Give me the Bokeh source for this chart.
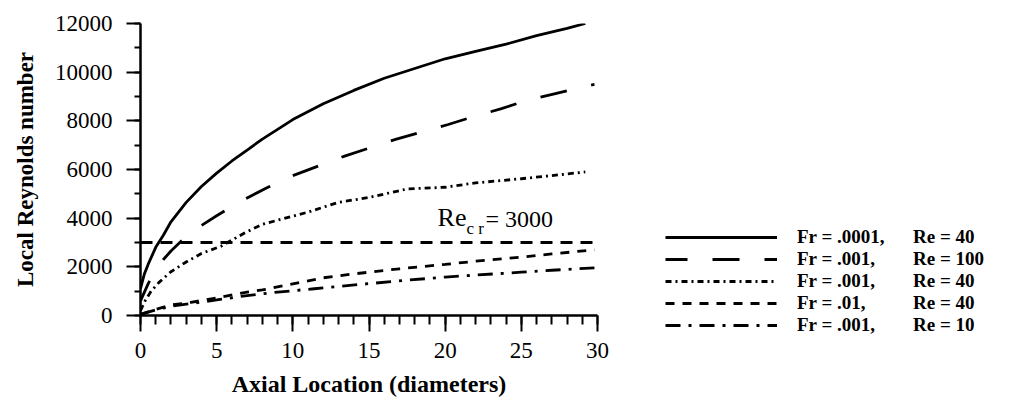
from bokeh.plotting import figure
from bokeh.models import Range1d, SingleIntervalTicker, Legend, LegendItem, Label
from bokeh.embed import file_html
from bokeh.resources import INLINE

# Local Reynolds number along the tube (axial location in diameters)
x_fr0001_re40 = [0, 0.25, 0.5, 1, 1.5, 2, 3, 4, 5, 6, 7, 8, 10, 12, 14, 16, 18, 20, 22, 24, 26, 28, 29.2]
re_fr0001_re40 = [1100, 1700, 2100, 2800, 3300, 3850, 4650, 5300, 5850, 6350, 6800, 7250, 8050, 8700,
                  9250, 9750, 10150, 10550, 10850, 11150, 11500, 11800, 12000]

x_fr001_re100 = [0, 0.5, 1, 1.5, 2, 3, 4, 5, 6.6, 8.3, 10, 11.7, 13.4, 15.1, 16.8, 18.5, 20.2, 22, 23.7, 25.4, 27.1, 29.8]
re_fr001_re100 = [600, 1300, 1900, 2300, 2650, 3250, 3700, 4100, 4700, 5250, 5750, 6150, 6550, 6900,
                  7250, 7550, 7850, 8200, 8500, 8850, 9100, 9500]

x_fr001_re40 = [0, 0.3, 0.7, 1.2, 2, 3, 4, 5.3, 6.8, 8, 9.5, 11, 13, 15, 17.5, 20, 22, 25, 27, 29.2]
re_fr001_re40 = [200, 600, 1000, 1350, 1800, 2200, 2550, 2850, 3380, 3750, 4000, 4250, 4650, 4850,
                 5200, 5270, 5450, 5620, 5750, 5900]

x_fr01_re40 = [0, 1, 2, 3.3, 5, 7, 8, 10, 12, 14, 17, 20, 22, 25, 27, 29.8]
re_fr01_re40 = [50, 250, 430, 540, 720, 960, 1050, 1300, 1550, 1710, 1920, 2100, 2230, 2400, 2530, 2700]

x_fr001_re10 = [0, 1, 2, 3.3, 5, 7, 9, 11.4, 14.3, 17.3, 20, 22, 25, 27, 29.8]
re_fr001_re10 = [50, 230, 380, 490, 640, 820, 960, 1100, 1270, 1440, 1580, 1660, 1780, 1860, 1960]

RE_CR = 3000
X_MIN, X_MAX = 0, 30
Y_MIN, Y_MAX = 0, 12000

legend_fr = ["Fr = .0001,", "Fr = .001,", "Fr = .001,", "Fr = .01,", "Fr = .001,"]
legend_re = ["Re = 40", "Re = 100", "Re = 40", "Re = 40", "Re = 10"]

SERIF = "Liberation Serif"
H = 406
LEFT, TOP, BOTTOM = 140, 23, 91
FRAME_W, FRAME_H = 457, H - TOP - BOTTOM

LW = 2.8
styles = [("solid", 0), ("27 25", 5), ("6 4 2 4", 0), ("9 8", 0), ("15 8 3 8", 0)]
series = [
    (x_fr0001_re40, re_fr0001_re40),
    (x_fr001_re100, re_fr001_re100),
    (x_fr001_re40, re_fr001_re40),
    (x_fr01_re40, re_fr01_re40),
    (x_fr001_re10, re_fr001_re10),
]

p = figure(frame_width=FRAME_W, frame_height=FRAME_H, output_backend="svg", toolbar_location=None,
           x_range=Range1d(X_MIN, X_MAX), y_range=Range1d(Y_MIN, Y_MAX),
           min_border_left=LEFT, min_border_right=0, min_border_top=TOP,
           min_border_bottom=BOTTOM)
p.outline_line_color = None
p.xgrid.visible = False
p.ygrid.visible = False

xa = p.xaxis[0]
xa.ticker = SingleIntervalTicker(interval=5, num_minor_ticks=5)
xa.major_tick_in = 0
xa.major_tick_out = 16
xa.minor_tick_in = 0
xa.minor_tick_out = 9
xa.major_label_standoff = 11
xa.axis_label = "Axial Location (diameters)"
xa.axis_label_standoff = 10
xa.axis_label_text_font_size = "24px"

ya = p.yaxis[0]
ya.ticker = SingleIntervalTicker(interval=2000, num_minor_ticks=2)
ya.major_tick_in = 0
ya.major_tick_out = 14
ya.minor_tick_in = 0
ya.minor_tick_out = 6
ya.major_label_standoff = 14
ya.axis_label = "Local Reynolds number"
ya.axis_label_standoff = 14
ya.axis_label_text_font_size = "23px"

for ax in (xa, ya):
    ax.axis_line_width = 2.5
    ax.axis_line_color = "black"
    ax.major_tick_line_width = 2
    ax.minor_tick_line_width = 2
    ax.major_tick_line_color = "black"
    ax.minor_tick_line_color = "black"
    ax.major_label_text_font = SERIF
    ax.major_label_text_font_size = "23px"
    ax.major_label_text_color = "black"
    ax.axis_label_text_font = SERIF
    ax.axis_label_text_font_style = "bold"
    ax.axis_label_text_color = "black"

renderers = [p.line(xs, ys, line_width=LW, line_color="black", line_dash=dash, line_dash_offset=off)
             for (xs, ys), (dash, off) in zip(series, styles)]

# critical Reynolds number
p.segment(x0=[X_MIN], x1=[X_MAX], y0=[RE_CR], y1=[RE_CR], line_width=LW,
          line_color="black", line_dash="12 8")

cr_x = 19.5
p.add_layout(Label(x=cr_x, y=RE_CR, y_offset=11, text="Re", text_font=SERIF,
                   text_font_size="26px", text_baseline="bottom", text_color="black"))
p.add_layout(Label(x=cr_x, y=RE_CR, x_offset=29, y_offset=5, text="c r", text_font=SERIF,
                   text_font_size="17px", text_baseline="bottom", text_color="black"))
p.add_layout(Label(x=cr_x, y=RE_CR, x_offset=48, y_offset=11, text="= " + str(RE_CR), text_font=SERIF,
                   text_font_size="24px", text_baseline="bottom", text_color="black"))

# key: the "Re" column is lined up with no-break spaces after the Fr part
KEY_FONT_PX = 19
RE_COL = 114  # px from the start of the Fr text to the start of "Re"
SPACE = 0.25 * KEY_FONT_PX


def fr_width(s):
    w = {"F": 0.611, "r": 0.444, " ": 0.25, "=": 0.570, ".": 0.25, "0": 0.5, "1": 0.5, ",": 0.25}
    return sum(w[c] for c in s) * KEY_FONT_PX


labels = []
for fr, re_ in zip(legend_fr, legend_re):
    pad = max(1, round((RE_COL - fr_width(fr)) / SPACE))
    labels.append(fr + "\u00a0" * pad + re_)

KEY_LEFT_GAP = 68      # from the right end of the x axis to the key samples
KEY_BOTTOM = -21       # key bottom, measured up from the x axis
legend = Legend(items=[LegendItem(label=t, renderers=[r]) for t, r in zip(labels, renderers)],
                location=(KEY_LEFT_GAP, KEY_BOTTOM), glyph_width=112, glyph_height=20,
                label_height=20, spacing=0, padding=0, margin=0, border_line_color=None,
                background_fill_alpha=0, label_standoff=20, label_text_font=SERIF,
                label_text_font_style="bold", label_text_font_size=f"{KEY_FONT_PX}px",
                label_text_color="black")
p.add_layout(legend, "right")

open("out.html", "w").write(file_html(p, INLINE))
